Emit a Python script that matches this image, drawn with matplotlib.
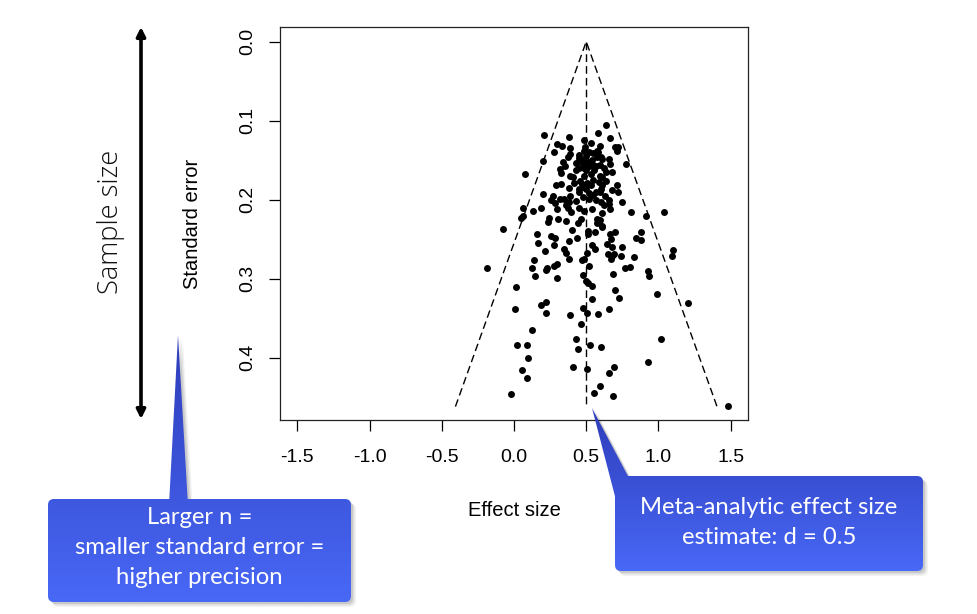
import numpy as np
import matplotlib
matplotlib.use("Agg")
import matplotlib.pyplot as plt
from matplotlib.patches import FancyBboxPatch, Polygon
from matplotlib.colors import LinearSegmentedColormap

plt.rcParams['axes.unicode_minus'] = False

# ---------------- data ----------------
effect = [0.636, 0.209, 0.382, 0.585, 0.664, 0.482, 0.297, 0.334, 0.535, 0.592,
          0.701, 0.719, 0.712, 0.387, 0.276, 0.387, 0.486, 0.518, 0.548, 0.576,
          0.373, 0.449, 0.500, 0.578, 0.608, 0.661, 0.664, 0.202, 0.336, 0.350,
          0.428, 0.452, 0.479, 0.514, 0.546, 0.592, 0.775, 0.320, 0.322, 0.447,
          0.486, 0.555, 0.634, 0.680, 0.597, 0.389, 0.486, 0.608, 0.078, 0.290,
          0.327, 0.417, 0.472, 0.502, 0.590, 0.606, 0.710, 0.475, 0.500, 0.678,
          0.719, 0.447, 0.518, 0.565, 0.592, 0.200, 0.269, 0.320, 0.343, 0.253,
          0.285, 0.382, 0.426, 0.518, 0.569, 0.602, 0.655, 0.661, 0.749, 0.186,
          0.064, 0.133, 0.299, 0.373, 0.392, 0.482, 0.606, 0.664, 0.811, 0.913,
          1.038, 0.046, 0.064, 0.244, 0.232, 0.306, 0.362, 0.463, 0.576, 0.572,
          0.595, 0.440, 0.606, -0.077, 0.405, 0.509, 0.509, 0.558, 0.611, 0.696,
          0.668, 0.159, 0.258, 0.285, 0.433, 0.380, 0.675, 0.881, 0.848, 0.876,
          0.165, 0.276, 0.539, 0.645, 0.745, 1.100, 1.093, 0.212, 0.348, 0.359,
          0.560, 0.507, 0.680, 0.650, 0.680, 0.694, 0.740, 0.673, 0.378, 0.468,
          0.484, 0.832, 0.136, -0.185, 0.122, 0.230, 0.225, 0.274, 0.295, 0.518,
          0.770, 0.805, 0.925, 0.936, 0.142, 0.299, 0.477, 0.498, 0.509, 0.537,
          0.682, 0.016, 0.698, 0.987, 0.539, 0.724, 1.206, 0.006, 0.184, 0.225,
          0.225, 0.385, 0.479, 0.507, 0.583, 0.659, 0.461, 0.124, 0.022, 0.092,
          0.431, 1.021, 0.440, 0.523, 0.604, 0.096, 0.927, 0.055, 0.089, 0.408,
          0.502, 0.657, 0.689, -0.021, 0.555, 0.595, 0.685, 1.485,
          0.45, 0.47, 0.52, 0.54, 0.43, 0.50, 0.53, 0.57, 0.62, 0.41,
          0.46, 0.55, 0.64, 0.38, 0.45, 0.53, 0.60, 0.39, 0.48, 0.55,
          0.63, 0.36, 0.45, 0.54, 0.62, 0.58, 0.49, 0.60]
std_error = [0.105, 0.118, 0.121, 0.116, 0.122, 0.124, 0.130, 0.132, 0.128, 0.132,
             0.133, 0.133, 0.138, 0.135, 0.140, 0.142, 0.138, 0.140, 0.141, 0.138,
             0.146, 0.143, 0.145, 0.146, 0.149, 0.148, 0.155, 0.151, 0.152, 0.157,
             0.154, 0.151, 0.154, 0.152, 0.156, 0.156, 0.155, 0.161, 0.166, 0.160,
             0.160, 0.162, 0.165, 0.165, 0.170, 0.170, 0.170, 0.171, 0.168, 0.181,
             0.180, 0.179, 0.180, 0.179, 0.178, 0.181, 0.181, 0.184, 0.187, 0.188,
             0.191, 0.191, 0.192, 0.191, 0.191, 0.193, 0.195, 0.199, 0.199, 0.201,
             0.204, 0.203, 0.202, 0.199, 0.201, 0.203, 0.200, 0.206, 0.203, 0.210,
             0.211, 0.214, 0.212, 0.211, 0.216, 0.215, 0.217, 0.212, 0.216, 0.221,
             0.216, 0.223, 0.221, 0.223, 0.228, 0.225, 0.227, 0.224, 0.224, 0.229,
             0.226, 0.229, 0.233, 0.237, 0.239, 0.240, 0.244, 0.241, 0.235, 0.241,
             0.243, 0.244, 0.246, 0.249, 0.249, 0.252, 0.250, 0.241, 0.248, 0.251,
             0.255, 0.257, 0.257, 0.256, 0.260, 0.264, 0.272, 0.265, 0.262, 0.267,
             0.262, 0.267, 0.260, 0.269, 0.272, 0.269, 0.272, 0.275, 0.275, 0.277,
             0.275, 0.273, 0.277, 0.286, 0.286, 0.286, 0.289, 0.284, 0.281, 0.284,
             0.287, 0.285, 0.291, 0.297, 0.297, 0.299, 0.295, 0.303, 0.306, 0.310,
             0.294, 0.311, 0.314, 0.319, 0.326, 0.325, 0.331, 0.338, 0.333, 0.329,
             0.343, 0.346, 0.337, 0.343, 0.345, 0.338, 0.358, 0.365, 0.384, 0.384,
             0.376, 0.376, 0.389, 0.384, 0.386, 0.400, 0.405, 0.416, 0.426, 0.412,
             0.414, 0.419, 0.412, 0.446, 0.445, 0.436, 0.449, 0.461,
             0.147, 0.150, 0.158, 0.150, 0.163, 0.163, 0.168, 0.158, 0.160, 0.172,
             0.176, 0.175, 0.176, 0.185, 0.186, 0.182, 0.187, 0.195, 0.197, 0.194,
             0.196, 0.207, 0.210, 0.212, 0.207, 0.140, 0.133, 0.146]
estimate = 0.5
se_max = 0.462
x_ticks = [-1.5, -1.0, -0.5, 0.0, 0.5, 1.0, 1.5]
y_ticks = [0.0, 0.1, 0.2, 0.3, 0.4]

W, H = 978, 614
fig = plt.figure(figsize=(W / 100, H / 100), dpi=100)
fig.patch.set_facecolor('white')

# main axes
ax_l, ax_r, ax_t, ax_b = 280, 748, 27, 420
ax = fig.add_axes([ax_l / W, 1 - ax_b / H, (ax_r - ax_l) / W, (ax_b - ax_t) / H])
ax.set_xlim(-1.62, 1.62)
ax.set_ylim(0.479, -0.0185)

ax.plot(effect, std_error, 'o', color='black', markersize=5.0,
        markeredgewidth=0, zorder=3)

# funnel lines
ax.plot([estimate - 1.96 * se_max, estimate, estimate + 1.96 * se_max],
        [se_max, 0, se_max], color='black', lw=1.0, dashes=(5.5, 3), zorder=2)
ax.plot([estimate, estimate], [0, se_max], color='black', lw=1.0,
        dashes=(5.5, 3), zorder=2)

ax.set_xticks(x_ticks)
ax.set_xticklabels([f"{v:.1f}" for v in x_ticks])
ax.set_yticks(y_ticks)
ax.set_yticklabels([f"{v:.1f}" for v in y_ticks], rotation=90, va='center')
ax.tick_params(axis='both', direction='out', length=8, width=0.9,
               labelsize=14, colors='black')
ax.tick_params(axis='x', pad=13)
ax.tick_params(axis='y', pad=9)
for lab in ax.get_xticklabels() + ax.get_yticklabels():
    lab.set_family('Liberation Sans')
for s in ax.spines.values():
    s.set_linewidth(0.9)
    s.set_color('#222222')

ax.set_xlabel('Effect size', fontsize=14.5, family='Liberation Sans',
              va='center', ha='center')
ax.xaxis.set_label_coords(0.5, (ax_b - 510) / (ax_b - ax_t))
ax.set_ylabel('Standard error', fontsize=14.5, family='Liberation Sans',
              va='center', ha='center')
ax.yaxis.set_label_coords((193 - ax_l) / (ax_r - ax_l), 0.5)

# overlay axes in pixel coordinates
oax = fig.add_axes([0, 0, 1, 1], zorder=5)
oax.set_xlim(0, W)
oax.set_ylim(H, 0)
oax.axis('off')

# Sample size arrow + text
oax.annotate('', xy=(141, 27), xytext=(141, 419),
             arrowprops=dict(arrowstyle='<|-|>', color='black', lw=2.6,
                             mutation_scale=13, shrinkA=0, shrinkB=0))
oax.text(111, 222, 'Sample size', rotation=90, ha='center', va='center',
         fontsize=19.6, family='Open Sans', fontweight='light', color='#111111')


def callout(box, wedge, text_lines, text_y, fontsize, y_top, y_bot):
    x0, y0, x1, y1 = box
    cmap = LinearSegmentedColormap.from_list('g', ['#2E3DBA', '#4868F6'])
    # shadow
    for off, a in [(2, 0.10), (3.5, 0.08), (5, 0.05)]:
        sb = FancyBboxPatch((x0 + off, y0 + off), x1 - x0, y1 - y0,
                            boxstyle='round,pad=0,rounding_size=6',
                            facecolor='black', edgecolor='none', alpha=a, zorder=1)
        oax.add_patch(sb)
        sw = Polygon([(px + off, py + off) for px, py in wedge], closed=True,
                     facecolor='black', edgecolor='none', alpha=a, zorder=1)
        oax.add_patch(sw)
    bp = FancyBboxPatch((x0, y0), x1 - x0, y1 - y0,
                        boxstyle='round,pad=0,rounding_size=6',
                        facecolor='none', edgecolor='none')
    wp = Polygon(wedge, closed=True, facecolor='none', edgecolor='none')
    oax.add_patch(bp)
    oax.add_patch(wp)
    grad = np.linspace(0, 1, 256).reshape(-1, 1)
    xa = min(x0, min(p[0] for p in wedge)) - 2
    xb = max(x1, max(p[0] for p in wedge)) + 2
    for p in (bp, wp):
        im = oax.imshow(grad, cmap=cmap, extent=(xa, xb, y_bot, y_top),
                        aspect='auto', zorder=2, interpolation='bilinear')
        im.set_clip_path(p)
    cx = (x0 + x1) / 2
    for t, ty in zip(text_lines, text_y):
        oax.text(cx, ty, t, ha='center', va='center', color='white',
                 fontsize=fontsize, family='Lato', zorder=4)


callout((48, 499, 351, 602), [(178, 335), (169, 505), (188, 505)],
        ['Larger n =', 'smaller standard error =', 'higher precision'],
        [517, 548, 578], 17.2, 335, 602)
callout((615, 476, 923, 571), [(592, 408), (629, 478), (617, 504)],
        ['Meta-analytic effect size', 'estimate: d = 0.5'],
        [507, 537], 17.2, 408, 571)

oax.set_xlim(0, W)
oax.set_ylim(H, 0)

fig.savefig('out.png', dpi=100)
